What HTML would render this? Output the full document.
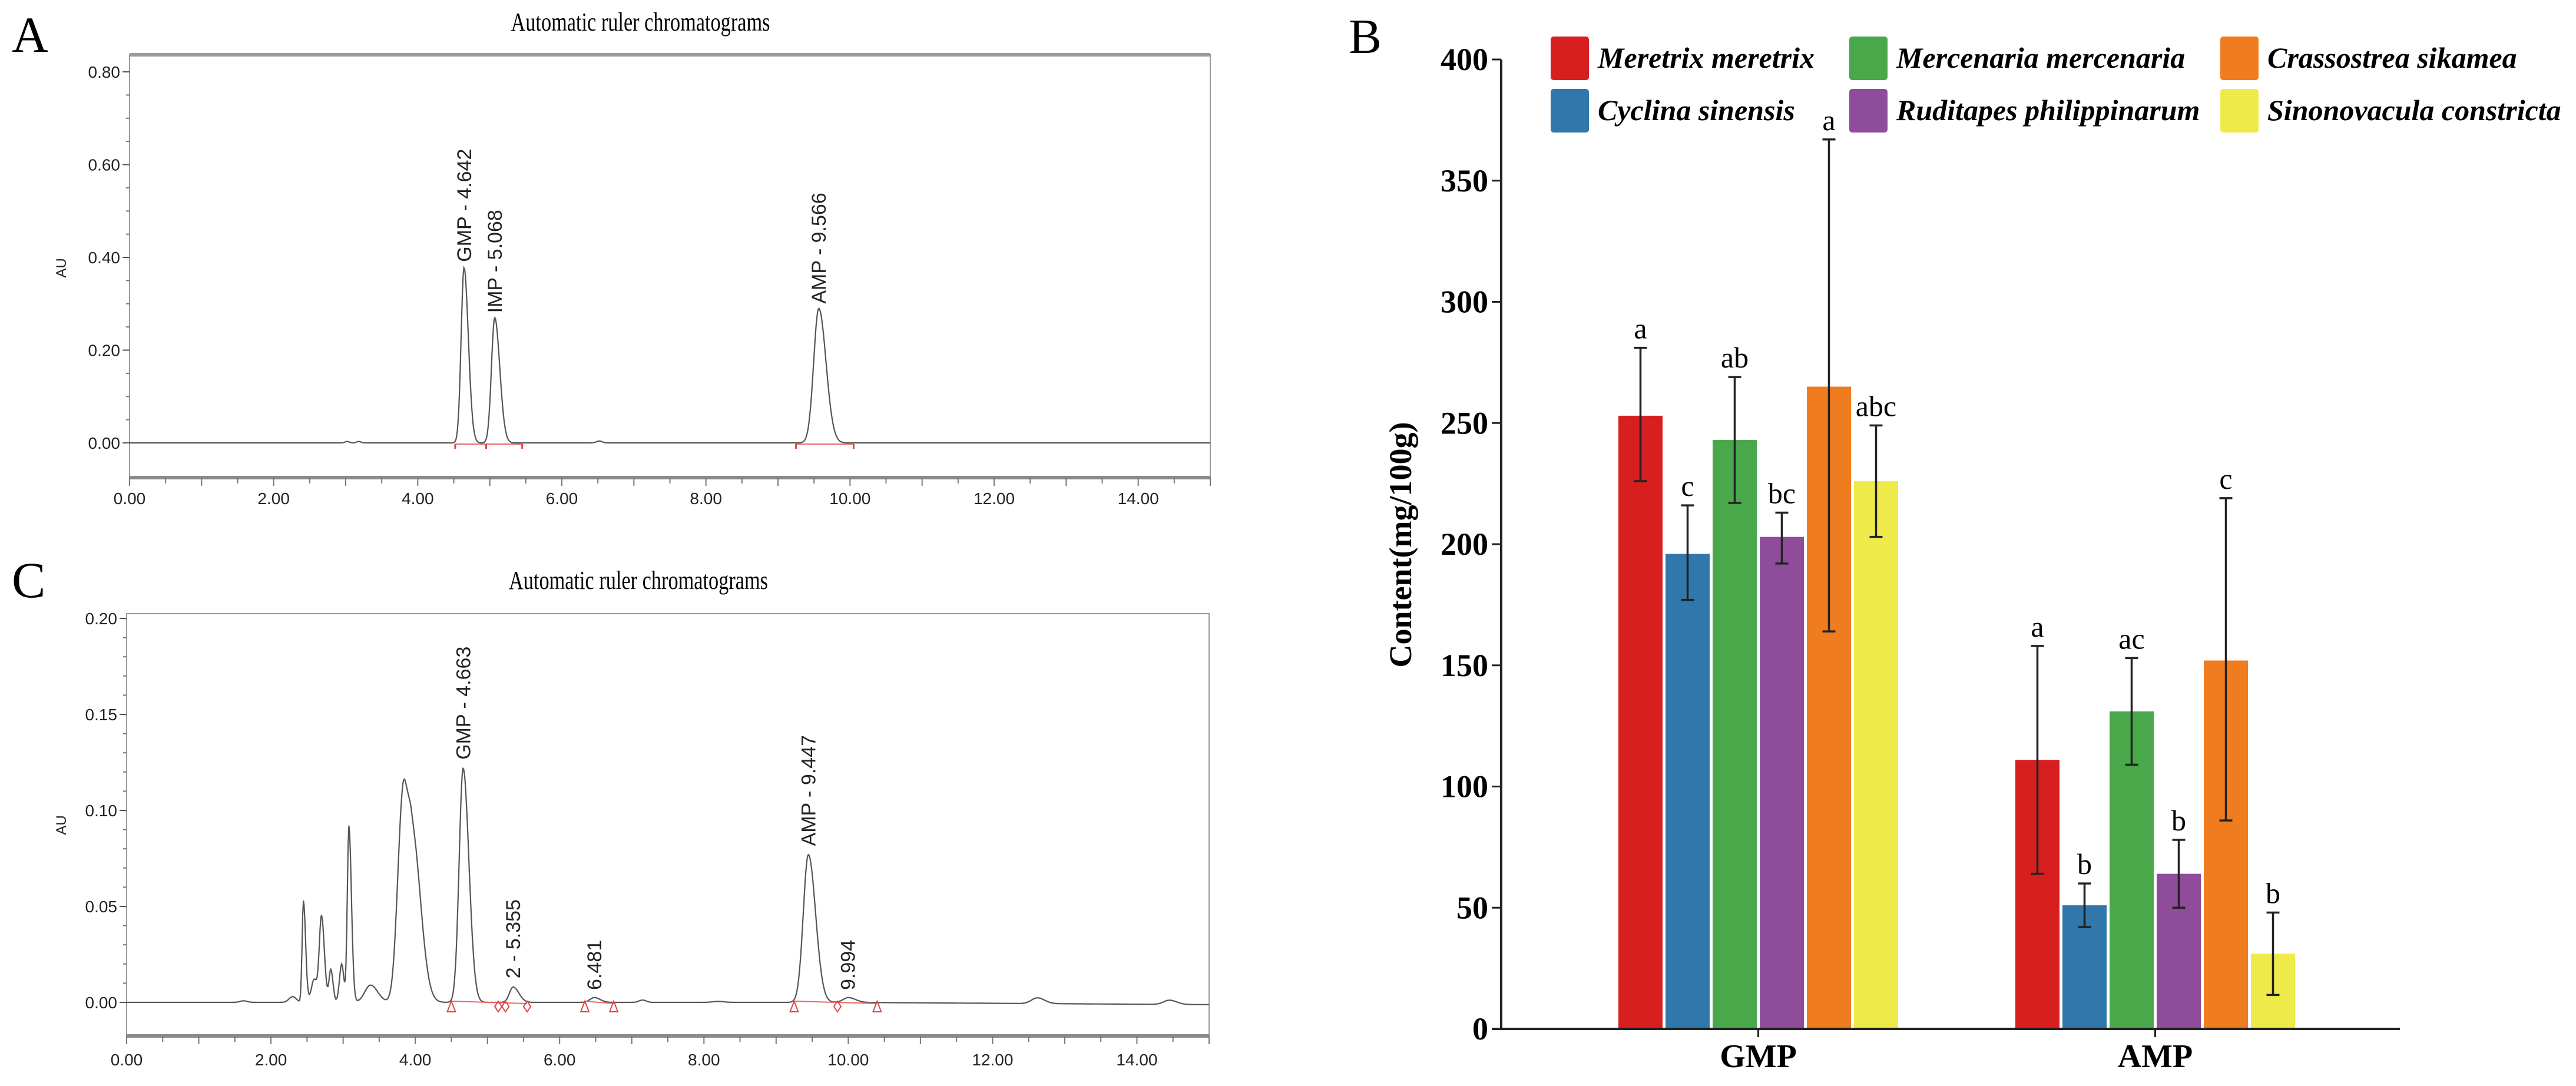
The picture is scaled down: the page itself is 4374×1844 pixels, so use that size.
<!DOCTYPE html>
<html><head><meta charset="utf-8"><style>
html,body{margin:0;padding:0;background:#fff;}
svg{display:block;}
</style></head><body>
<svg id="fig" xmlns="http://www.w3.org/2000/svg" width="4374" height="1844" viewBox="0 0 4374 1844">
<rect x="0" y="0" width="4374" height="1844" fill="#fff"/>
<g id="panelA"></g>
<g id="panelC"></g>
<g id="panelB"></g>
</svg>
<script>
// ---------- Bar chart data (panel B) ----------
const categories = ["GMP", "AMP"];
const speciesNames = ["Meretrix meretrix","Cyclina sinensis","Mercenaria mercenaria","Ruditapes philippinarum","Crassostrea sikamea","Sinonovacula constricta"];
const speciesColors = ["#d71f20","#3077ab","#48a84a","#8f4c9a","#ef7c1f","#eeea4a"];
const gmpValues = [253, 196, 243, 203, 265, 226];
const gmpErrLow = [226, 177, 217, 192, 164, 203];
const gmpErrHigh = [281, 216, 269, 213, 367, 249];
const gmpLetters = ["a","c","ab","bc","a","abc"];
const ampValues = [111, 51, 131, 64, 152, 31];
const ampErrLow = [64, 42, 109, 50, 86, 14];
const ampErrHigh = [158, 60, 153, 78, 219, 48];
const ampLetters = ["a","b","ac","b","c","b"];
const barTicks = [0,50,100,150,200,250,300,350,400];

// ---------- Chromatogram data ----------
// peaks: retention time, height (AU), left width, right width
const peaksA_rt = [3.02, 3.18, 4.642, 5.068, 6.52, 9.566];
const peaksA_h  = [0.003, 0.003, 0.378, 0.27, 0.004, 0.29];
const peaksA_wl = [0.03, 0.03, 0.04, 0.045, 0.04, 0.07];
const peaksA_wr = [0.03, 0.03, 0.06, 0.07, 0.04, 0.1];
const labelsA = ["GMP - 4.642", "IMP - 5.068", "AMP - 9.566"];
const labelsA_rt = [4.642, 5.068, 9.566];
const labelsA_h = [0.38, 0.27, 0.29];
const ticksA_y = [0, 0.2, 0.4, 0.6, 0.8];
const ticksX = [0, 2, 4, 6, 8, 10, 12, 14];

const peaksC_rt = [1.62, 2.3, 2.45, 2.6, 2.7, 2.83, 2.98, 3.08, 3.38, 3.82, 3.95, 4.663, 5.355, 6.481, 7.15, 8.2, 9.447, 10.0, 12.62, 14.45];
const peaksC_h  = [0.0008, 0.003, 0.053, 0.012, 0.045, 0.017, 0.02, 0.092, 0.009, 0.095, 0.09, 0.122, 0.008, 0.0025, 0.0012, 0.0005, 0.077, 0.0025, 0.003, 0.0022];
const peaksC_wl = [0.05, 0.05, 0.018, 0.04, 0.03, 0.025, 0.03, 0.022, 0.08, 0.07, 0.07, 0.055, 0.05, 0.06, 0.05, 0.08, 0.07, 0.07, 0.08, 0.08];
const peaksC_wr = [0.05, 0.05, 0.03, 0.04, 0.04, 0.03, 0.03, 0.035, 0.1, 0.06, 0.12, 0.08, 0.08, 0.08, 0.05, 0.08, 0.1, 0.1, 0.1, 0.1];
const labelsC = ["GMP - 4.663", "2 - 5.355", "6.481", "AMP - 9.447", "9.994"];
const labelsC_rt = [4.663, 5.355, 6.481, 9.447, 9.994];
const labelsC_h = [0.124, 0.01, 0.004, 0.079, 0.004];
const triMarksC = [4.5, 6.35, 6.75, 9.25, 10.4];
const diaMarksC = [5.15, 5.25, 5.55, 9.85];
const ticksC_y = [0, 0.05, 0.10, 0.15, 0.20];

const NS = "http://www.w3.org/2000/svg";
function mk(parent, tag, attrs, text) {
  const e = document.createElementNS(NS, tag);
  for (const k in attrs) e.setAttribute(k, attrs[k]);
  if (text !== undefined) e.textContent = text;
  parent.appendChild(e);
  return e;
}

function drawChrom(g, cfg) {
  const {left, right, top, bottom, y0, yTop, yMaxVal, letter, letterY, titleY, auY, rt, h, wl, wr, labels, lrt, lh, yTicks, yMinorStep, lblFont, xLblY, thickTop} = cfg;
  const X = t => left + (right - left) * t / 15;
  const Y = v => y0 - (y0 - yTop) * v / yMaxVal;
  const L = mk(g, "text", {x: 20, y: letterY, "font-family": "Liberation Serif, serif", "font-size": 86}, letter);
  
  
  const T = mk(g, "text", {x: (left + right) / 2 - 50, y: titleY, "text-anchor": "middle", "font-family": "Liberation Serif, serif", "font-size": 44, textLength: 440, lengthAdjust: "spacingAndGlyphs"}, "Automatic ruler chromatograms");
  
  
  // frame
  const fr = mk(g, "rect", {x: left, y: top, width: right - left, height: bottom - top, fill: "none", stroke: "#9a9a9a", "stroke-width": 2});
  
  
  mk(g, "line", {x1: left, x2: right, y1: bottom, y2: bottom, stroke: "#8a8a8a", "stroke-width": 6});
  if (thickTop) mk(g, "line", {x1: left, x2: right, y1: top, y2: top, stroke: "#9a9a9a", "stroke-width": 6});
  // y ticks
  for (let v = 0; v <= yMaxVal + 1e-9; v += yMinorStep) {
    mk(g, "line", {x1: left - 6, x2: left, y1: Y(v), y2: Y(v), stroke: "#777", "stroke-width": 2});
  }
  yTicks.forEach(v => {
    mk(g, "line", {x1: left - 12, x2: left, y1: Y(v), y2: Y(v), stroke: "#555", "stroke-width": 2});
    const t = mk(g, "text", {x: left - 16, y: Y(v) + 10, "text-anchor": "end", "font-family": "Liberation Sans, sans-serif", "font-size": 28, fill: "#222"}, v.toFixed(2));
    
    
  });
  // x ticks
  for (let m = 0; m <= 15; m += 0.5) {
    mk(g, "line", {x1: X(m), x2: X(m), y1: bottom, y2: bottom + (m % 1 === 0 ? 14 : 10), stroke: "#777", "stroke-width": 2});
  }
  ticksX.forEach(m => {
    const t = mk(g, "text", {x: X(m), y: xLblY, "text-anchor": "middle", "font-family": "Liberation Sans, sans-serif", "font-size": 28, fill: "#222"}, m.toFixed(2));
    
    
  });
  const au = mk(g, "text", {x: 0, y: 0, transform: `translate(112,${auY}) rotate(-90)`, "text-anchor": "middle", "font-family": "Liberation Sans, sans-serif", "font-size": 24, fill: "#222"}, "AU");
  
  
  // trace
  let d = "";
  for (let i = 0; i <= 1500; i++) {
    const t = i / 100;
    let v = cfg.drift ? cfg.drift(t) : 0;
    for (let k = 0; k < rt.length; k++) {
      const w = t < rt[k] ? wl[k] : wr[k];
      v += h[k] * Math.exp(-0.5 * Math.pow((t - rt[k]) / w, 2));
    }
    d += (i ? "L" : "M") + X(t).toFixed(1) + " " + Y(v).toFixed(1);
  }
  const tr = mk(g, "path", {d: d, fill: "none", stroke: "#555", "stroke-width": 2.2});
  
  
  // peak labels
  labels.forEach((s, i) => {
    const x = X(lrt[i]) + 12, y = Y(lh[i]) - 8;
    const t = mk(g, "text", {x: 0, y: 0, transform: `translate(${x},${y}) rotate(-90)`, "font-family": "Liberation Sans, sans-serif", "font-size": 34, fill: "#222"}, s);
    
    
  });
  return {X, Y};
}

// Panel A
const gA = document.getElementById("panelA");
const axA = drawChrom(gA, {left: 220, right: 2055, top: 93, bottom: 811, y0: 752, yTop: 122, yMaxVal: 0.8, letter: "A", letterY: 88, titleY: 52, auY: 455,
  rt: peaksA_rt, h: peaksA_h, wl: peaksA_wl, wr: peaksA_wr, labels: labelsA, lrt: labelsA_rt, lh: labelsA_h, yTicks: ticksA_y, yMinorStep: 0.05, xLblY: 856, thickTop: true});
// red baseline segments A
[[4.52, 4.95], [4.95, 5.45], [9.25, 10.05]].forEach(s => {
  mk(gA, "line", {x1: axA.X(s[0]), x2: axA.X(s[1]), y1: 754, y2: 754, stroke: "#e86a6a", "stroke-width": 2});
  s.forEach(t => mk(gA, "line", {x1: axA.X(t), x2: axA.X(t), y1: 754, y2: 762, stroke: "#e04444", "stroke-width": 3}));
});

// Panel C
const gC = document.getElementById("panelC");
const axC = drawChrom(gC, {left: 215, right: 2053, top: 1042, bottom: 1759, y0: 1702, yTop: 1050, yMaxVal: 0.2, letter: "C", letterY: 1014, titleY: 1000, auY: 1401,
  rt: peaksC_rt, h: peaksC_h, wl: peaksC_wl, wr: peaksC_wr, labels: labelsC, lrt: labelsC_rt, lh: labelsC_h, yTicks: ticksC_y, yMinorStep: 0.01, xLblY: 1809, thickTop: false,
  drift: t => -0.0012 * Math.max(0, (t - 10) / 5)});
[[4.5, 5.55], [6.35, 6.75], [9.25, 10.4]].forEach(s => {
  mk(gC, "line", {x1: axC.X(s[0]), x2: axC.X(s[1]), y1: 1700, y2: 1704, stroke: "#e86a6a", "stroke-width": 2});
});
triMarksC.forEach(t => {
  const x = axC.X(t);
  const p = mk(gC, "path", {d: `M${x} 1700 L${x - 7} 1718 L${x + 7} 1718 Z`, fill: "none", stroke: "#e04444", "stroke-width": 2});
  
  
});
diaMarksC.forEach(t => {
  const x = axC.X(t);
  const p = mk(gC, "path", {d: `M${x} 1700 L${x - 6} 1709 L${x} 1718 L${x + 6} 1709 Z`, fill: "none", stroke: "#e04444", "stroke-width": 2});
  
  
});

// Panel B
const gB = document.getElementById("panelB");
const axisX = 2549, zeroY = 1747, topY = 101, axisEnd = 4075;
const yB = v => zeroY - (zeroY - topY) * v / 400;
const groupStart = [2748, 3422];
const pitch = 80, bw = 75;
const serif = "Liberation Serif, serif";

const bl = mk(gB, "text", {x: 2290, y: 90, "font-family": serif, "font-size": 84}, "B");



barTicks.forEach(v => {
  mk(gB, "line", {x1: axisX - 16, x2: axisX, y1: yB(v), y2: yB(v), stroke: "#222", "stroke-width": 3});
  const t = mk(gB, "text", {x: 2527, y: yB(v) + 18, "text-anchor": "end", "font-family": serif, "font-size": 54, "font-weight": "bold"}, String(v));
  
  
});
const yt = mk(gB, "text", {x: 0, y: 0, transform: "translate(2396,925) rotate(-90)", "text-anchor": "middle", "font-family": serif, "font-size": 54, "font-weight": "bold"}, "Content(mg/100g)");



const groupVals = [gmpValues, ampValues];
const groupLo = [gmpErrLow, ampErrLow];
const groupHi = [gmpErrHigh, ampErrHigh];
const groupLet = [gmpLetters, ampLetters];
categories.forEach((c, gi) => {
  groupVals[gi].forEach((v, i) => {
    const x = groupStart[gi] + i * pitch;
    const r = mk(gB, "rect", {x: x, y: yB(v), width: bw, height: zeroY - yB(v), fill: speciesColors[i]});
    
    
    const cx = x + bw / 2;
    const eb = mk(gB, "path", {d: `M${cx} ${yB(groupLo[gi][i])} V${yB(groupHi[gi][i])} M${cx - 11} ${yB(groupLo[gi][i])} H${cx + 11} M${cx - 11} ${yB(groupHi[gi][i])} H${cx + 11}`, stroke: "#222", "stroke-width": 3.5, fill: "none"});
    
    
    const lt = mk(gB, "text", {x: cx, y: yB(groupHi[gi][i]) - 16, "text-anchor": "middle", "font-family": serif, "font-size": 50}, groupLet[gi][i]);
    
    
  });
  const gc = groupStart[gi] + (6 * pitch - (pitch - bw)) / 2;
  mk(gB, "line", {x1: gc, x2: gc, y1: zeroY, y2: zeroY + 14, stroke: "#222", "stroke-width": 3});
  const xl = mk(gB, "text", {x: gc, y: 1812, "text-anchor": "middle", "font-family": serif, "font-size": 56, "font-weight": "bold"}, c);
  
  
});
mk(gB, "line", {x1: axisX, x2: axisX, y1: topY, y2: zeroY, stroke: "#222", "stroke-width": 4});
mk(gB, "line", {x1: axisX - 16, x2: axisEnd, y1: zeroY, y2: zeroY, stroke: "#222", "stroke-width": 4});

// legend
const legCols = [2633, 3140, 3770];
const legRows = [62, 151];
speciesNames.forEach((n, i) => {
  const col = Math.floor(i / 2), row = i % 2;
  const lg = mk(gB, "g", {});
  
  
  mk(lg, "rect", {x: legCols[col], y: legRows[row], width: 65, height: 74, rx: 5, fill: speciesColors[i]});
  mk(lg, "text", {x: legCols[col] + 80, y: legRows[row] + 53, "font-family": serif, "font-size": 50, "font-style": "italic", "font-weight": "bold"}, n);
});
</script>
</body></html>
